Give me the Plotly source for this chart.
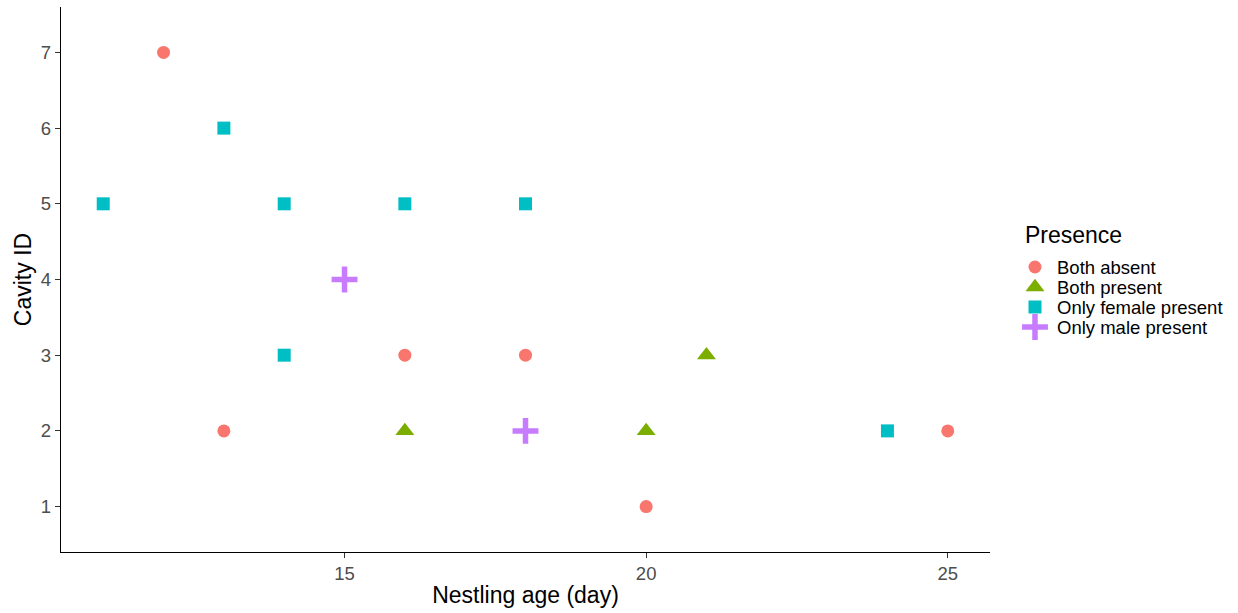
import plotly.graph_objects as go

# Data
both_absent_x = [12, 13, 16, 18, 20, 25]
both_absent_y = [7, 2, 3, 3, 1, 2]
both_present_x = [16, 20, 21]
both_present_y = [2, 2, 3]
female_x = [11, 13, 14, 14, 16, 18, 24]
female_y = [5, 6, 5, 3, 5, 5, 2]
male_x = [15, 18]
male_y = [4, 2]

x_ticks = [15, 20, 25]
y_ticks = [1, 2, 3, 4, 5, 6, 7]

legend_title = "Presence"
group_names = ["Both absent", "Both present", "Only female present", "Only male present"]
group_colors = ["#F8766D", "#7CAE00", "#00BFC4", "#C77CFF"]
group_symbols = ["circle", "triangle-up", "square", "cross-thin"]
group_sizes = [13, 16.5, 13, 18.5]
group_lines = [0, 0, 0, 5.5]

FONT = "Liberation Sans, Arial, sans-serif"
TITLE_SIZE = 23
TEXT_SIZE = 18.5

groups_xy = [(both_absent_x, both_absent_y), (both_present_x, both_present_y),
             (female_x, female_y), (male_x, male_y)]

fig = go.Figure()
for (gx, gy), name, col, sym, sz, lw in zip(groups_xy, group_names, group_colors,
                                            group_symbols, group_sizes, group_lines):
    fig.add_trace(go.Scatter(x=gx, y=gy, mode="markers", name=name, showlegend=False,
                             marker=dict(symbol=sym, size=sz, color=col,
                                         line=dict(width=lw, color=col)),
                             xaxis="x", yaxis="y"))

# Manual legend drawn on an auxiliary (hidden) axis pair
legend_idx = list(range(len(group_names)))
for i, name, col, sym, sz, lw in zip(legend_idx, group_names, group_colors,
                                     group_symbols, group_sizes, group_lines):
    fig.add_trace(go.Scatter(x=[0.1376], y=[i], mode="markers", showlegend=False,
                             hoverinfo="skip",
                             marker=dict(symbol=sym, size=sz, color=col,
                                         line=dict(width=lw, color=col)),
                             xaxis="x2", yaxis="y2"))
    fig.add_annotation(x=0.224, y=i, xref="x2", yref="y2", text=name, showarrow=False,
                       xanchor="left", yanchor="middle",
                       font=dict(size=TEXT_SIZE, color="black", family=FONT))
fig.add_annotation(x=0.087, y=-1.6, xref="x2", yref="y2", text=legend_title, showarrow=False,
                   xanchor="left", yanchor="middle",
                   font=dict(size=TITLE_SIZE, color="black", family=FONT))

fig.update_layout(
    width=1238, height=613,
    margin=dict(l=61, r=0, t=7, b=61),
    plot_bgcolor="white", paper_bgcolor="white",
    font=dict(family=FONT, color="black"),
    showlegend=False,
    xaxis=dict(
        domain=[0, 929 / 1177],
        range=[10.3, 25.7], tickvals=x_ticks, showgrid=False, zeroline=False,
        showline=True, linecolor="black", linewidth=1.3,
        ticks="outside", ticklen=5, tickcolor="#333333", tickwidth=1.1,
        tickfont=dict(size=TEXT_SIZE, color="#4D4D4D"),
        title=dict(text="Nestling age (day)", font=dict(size=TITLE_SIZE, color="black"), standoff=3),
    ),
    yaxis=dict(
        range=[0.4, 7.6], tickvals=y_ticks, showgrid=False, zeroline=False,
        showline=True, linecolor="black", linewidth=1.3,
        ticks="outside", ticklen=5, tickcolor="#333333", tickwidth=1.1,
        tickfont=dict(size=TEXT_SIZE, color="#4D4D4D"),
        title=dict(text="Cavity ID", font=dict(size=TITLE_SIZE, color="black"), standoff=2),
    ),
    xaxis2=dict(domain=[0.80, 1.0], range=[0, 1], visible=False, anchor="y2",
                fixedrange=True),
    yaxis2=dict(domain=[0, 1], range=[14.25, -13], visible=False, anchor="x2",
                fixedrange=True),
)

fig.write_html("out.html")
